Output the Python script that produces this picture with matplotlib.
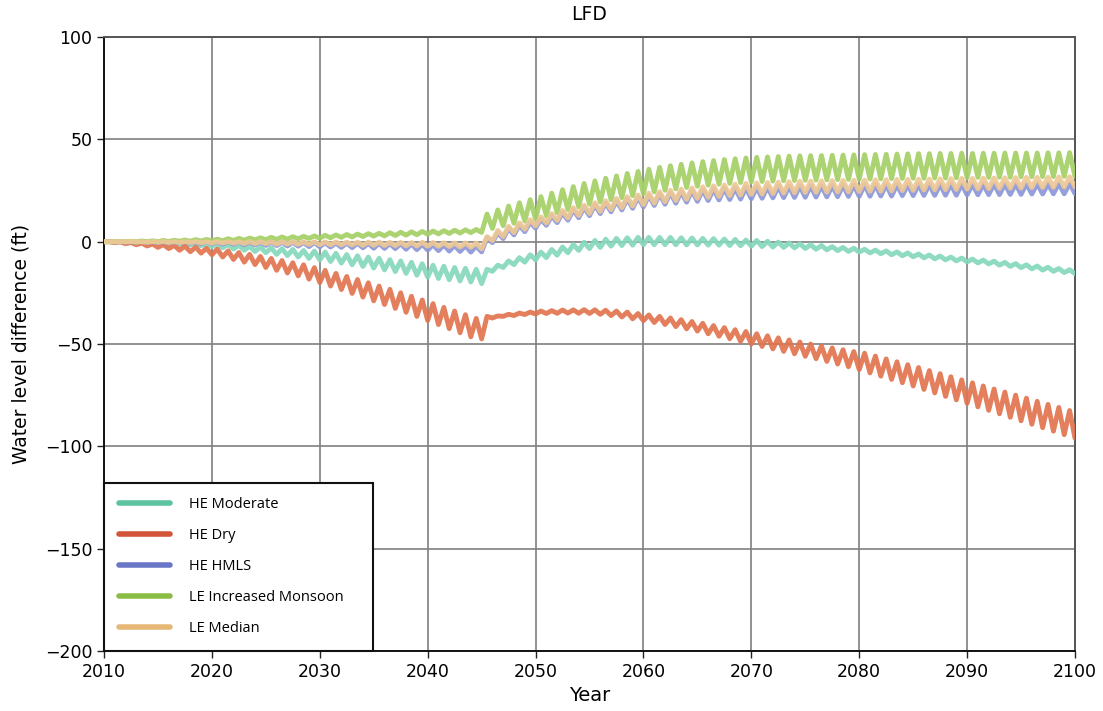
import numpy as np
import matplotlib
matplotlib.use("Agg")
import matplotlib.pyplot as plt
from matplotlib.lines import Line2D

years = list(range(2010, 2101))

labels = ["HE Moderate", "HE Dry", "HE HMLS", "LE Increased Monsoon", "LE Median"]
line_colors = ["#86d8bc", "#e2744f", "#8c97d8", "#a5d066", "#edc896"]
legend_colors = ["#5cc3a0", "#d2553a", "#6a77c6", "#8bbd45", "#e6b878"]

# yearly centre values (ft) and half seasonal swing
moderate_center = [
    0, -0.1, -0.2, -0.3, -0.4, -0.5, -0.7, -0.9, -1.1, -1.4,
    -1.7, -2.2, -2.7, -3.2, -3.7, -4.2, -4.8, -5.3, -5.9, -6.4,
    -7.0, -7.7, -8.4, -9.1, -9.8, -10.5, -11.3, -12.0, -12.8, -13.6,
    -14.4, -15.0, -15.6, -16.1, -16.6, -17.0, -13.0, -11.0, -9.5, -8.2,
    -7.0, -5.8, -4.6, -3.4, -2.3, -1.4, -0.8, -0.3, 0.0, 0.2,
    0.3, 0.3, 0.3, 0.2, 0.1, 0.0, -0.1, -0.2, -0.4, -0.6,
    -0.8, -1.1, -1.4, -1.7, -2.0, -2.4, -2.8, -3.2, -3.6, -4.0,
    -4.4, -4.8, -5.2, -5.7, -6.2, -6.7, -7.2, -7.7, -8.2, -8.7,
    -9.2, -9.7, -10.2, -10.8, -11.4, -12.0, -12.6, -13.2, -13.8, -14.4,
    -15.0]
moderate_swing = [
    0, 0.1, 0.1, 0.2, 0.2, 0.3, 0.4, 0.4, 0.5, 0.6,
    0.7, 0.8, 0.9, 1.0, 1.1, 1.2, 1.4, 1.5, 1.6, 1.8,
    1.9, 2.0, 2.1, 2.2, 2.3, 2.4, 2.5, 2.6, 2.7, 2.8,
    2.9, 3.0, 3.0, 3.1, 3.1, 3.5, 1.5, 1.6, 1.7, 1.8,
    1.9, 2.0, 2.0, 2.0, 2.0, 2.0, 2.0, 1.9, 1.9, 1.9,
    1.8, 1.8, 1.8, 1.7, 1.7, 1.6, 1.6, 1.5, 1.5, 1.4,
    1.4, 1.3, 1.2, 1.1, 1.0, 0.9, 0.9, 0.8, 0.8, 0.8,
    0.7, 0.7, 0.7, 0.7, 0.7, 0.7, 0.7, 0.7, 0.7, 0.7,
    0.7, 0.7, 0.7, 0.7, 0.7, 0.7, 0.7, 0.7, 0.7, 0.7,
    0.7]

dry_center = [
    0, -0.3, -0.7, -1.1, -1.6, -2.1, -2.6, -3.2, -3.8, -4.4,
    -5.0, -6.0, -7.0, -8.1, -9.2, -10.4, -11.6, -12.8, -14.0, -15.5,
    -17.0, -18.6, -20.2, -21.9, -23.6, -25.3, -27.0, -28.8, -30.6, -32.5,
    -34.4, -36.3, -38.2, -40.1, -42.0, -42.0, -36.8, -36.0, -35.5, -35.0,
    -34.6, -34.4, -34.2, -34.1, -34.1, -34.2, -34.5, -35.0, -35.6, -36.4,
    -37.2, -38.0, -38.9, -39.8, -40.8, -41.8, -43.0, -44.1, -45.2, -46.3,
    -47.5, -48.6, -49.7, -50.8, -51.9, -53.0, -54.1, -55.2, -56.3, -57.4,
    -58.5, -60.0, -61.5, -63.0, -64.5, -66.0, -67.6, -69.2, -70.8, -72.4,
    -74.0, -75.6, -77.2, -78.8, -80.4, -82.0, -83.6, -85.2, -86.8, -88.4,
    -90.0]
dry_swing = [
    0, 0.2, 0.3, 0.4, 0.5, 0.7, 0.8, 1.0, 1.1, 1.2,
    1.4, 1.5, 1.7, 1.9, 2.0, 2.2, 2.4, 2.5, 2.7, 2.8,
    3.0, 3.1, 3.2, 3.4, 3.5, 3.6, 3.7, 3.8, 3.9, 4.0,
    4.1, 4.2, 4.3, 4.4, 4.5, 5.5, 0.5, 0.5, 0.6, 0.6,
    0.7, 0.7, 0.8, 0.8, 0.9, 0.9, 1.0, 1.1, 1.2, 1.3,
    1.4, 1.5, 1.6, 1.7, 1.8, 1.9, 2.0, 2.1, 2.2, 2.4,
    2.5, 2.6, 2.7, 2.8, 2.9, 3.0, 3.1, 3.3, 3.5, 3.7,
    4.0, 4.1, 4.2, 4.3, 4.4, 4.5, 4.6, 4.7, 4.8, 4.9,
    5.0, 5.1, 5.2, 5.3, 5.4, 5.5, 5.6, 5.7, 5.8, 5.9,
    6.0]

hmls_center = [
    0, 0, -0.1, -0.1, -0.2, -0.2, -0.3, -0.3, -0.4, -0.5,
    -0.5, -0.6, -0.7, -0.8, -0.9, -1.0, -1.1, -1.2, -1.3, -1.4,
    -1.5, -1.6, -1.7, -1.8, -1.9, -2.0, -2.1, -2.2, -2.4, -2.6,
    -2.8, -3.0, -3.2, -3.4, -3.6, -1.5, 2.0, 4.0, 5.7, 7.2,
    8.8, 10.3, 11.7, 13.0, 14.2, 15.3, 16.3, 17.3, 18.2, 19.0,
    19.8, 20.5, 21.1, 21.6, 22.1, 22.5, 22.9, 23.2, 23.4, 23.6,
    23.8, 24.0, 24.2, 24.3, 24.4, 24.5, 24.6, 24.7, 24.8, 24.9,
    25.0, 25.0, 25.1, 25.1, 25.2, 25.2, 25.3, 25.3, 25.4, 25.4,
    25.5, 25.5, 25.6, 25.6, 25.7, 25.7, 25.8, 25.8, 25.9, 25.9,
    26.0]
hmls_swing = [
    0, 0.1, 0.1, 0.2, 0.2, 0.3, 0.3, 0.4, 0.4, 0.5,
    0.5, 0.6, 0.6, 0.7, 0.7, 0.8, 0.8, 0.9, 0.9, 1.0,
    1.0, 1.0, 1.1, 1.1, 1.1, 1.2, 1.2, 1.2, 1.3, 1.3,
    1.3, 1.4, 1.4, 1.4, 1.5, 3.5, 2.5, 2.5, 2.4, 2.3,
    2.2, 2.3, 2.4, 2.5, 2.5, 2.6, 2.6, 2.7, 2.7, 2.7,
    2.8, 2.8, 2.8, 2.8, 2.8, 2.8, 2.8, 2.8, 2.8, 2.8,
    2.8, 2.8, 2.8, 2.8, 2.8, 2.8, 2.8, 2.8, 2.8, 2.8,
    2.8, 2.8, 2.8, 2.8, 2.7, 2.7, 2.7, 2.7, 2.7, 2.7,
    2.6, 2.6, 2.6, 2.6, 2.6, 2.6, 2.5, 2.5, 2.5, 2.5,
    2.5]

monsoon_center = [
    0, 0.05, 0.1, 0.15, 0.2, 0.3, 0.4, 0.5, 0.6, 0.7,
    0.8, 0.95, 1.1, 1.25, 1.4, 1.55, 1.7, 1.85, 2.0, 2.2,
    2.4, 2.6, 2.8, 3.0, 3.2, 3.4, 3.6, 3.8, 4.0, 4.2,
    4.4, 4.6, 4.8, 5.0, 5.2, 9.0, 11.0, 12.6, 14.0, 15.3,
    16.5, 18.2, 19.8, 21.3, 22.7, 24.0, 25.2, 26.3, 27.4, 28.4,
    29.4, 30.3, 31.1, 31.8, 32.5, 33.1, 33.6, 34.1, 34.5, 34.9,
    35.2, 35.4, 35.6, 35.8, 35.9, 36.0, 36.1, 36.2, 36.3, 36.4,
    36.5, 36.6, 36.7, 36.8, 36.9, 37.0, 37.0, 37.1, 37.1, 37.2,
    37.2, 37.3, 37.3, 37.4, 37.4, 37.5, 37.5, 37.6, 37.6, 37.7,
    37.7]
monsoon_swing = [
    0, 0.1, 0.1, 0.2, 0.2, 0.3, 0.3, 0.3, 0.4, 0.4,
    0.4, 0.5, 0.5, 0.5, 0.5, 0.6, 0.6, 0.6, 0.6, 0.6,
    0.7, 0.7, 0.7, 0.7, 0.7, 0.7, 0.8, 0.8, 0.8, 0.8,
    0.8, 0.8, 0.8, 0.8, 0.8, 4.5, 4.5, 4.8, 5.0, 5.2,
    5.5, 5.5, 5.6, 5.6, 5.7, 5.7, 5.8, 5.8, 5.9, 5.9,
    6.0, 6.0, 6.0, 6.0, 6.0, 6.0, 6.0, 6.0, 6.0, 6.0,
    6.0, 6.0, 6.0, 6.0, 6.0, 6.0, 6.0, 6.0, 6.0, 6.0,
    6.0, 6.0, 6.0, 6.0, 6.0, 6.0, 6.0, 6.0, 6.0, 6.0,
    5.9, 5.9, 5.9, 5.9, 5.9, 5.8, 5.8, 5.8, 5.8, 5.8,
    5.8]

median_center = [
    0, 0, 0, -0.1, -0.1, -0.1, -0.2, -0.2, -0.2, -0.3,
    -0.3, -0.3, -0.4, -0.4, -0.5, -0.5, -0.6, -0.6, -0.7, -0.7,
    -0.8, -0.8, -0.9, -0.9, -1.0, -1.0, -1.1, -1.1, -1.2, -1.2,
    -1.3, -1.4, -1.5, -1.6, -1.7, -0.5, 3.0, 5.0, 6.8, 8.4,
    9.9, 11.4, 12.8, 14.1, 15.3, 16.4, 17.4, 18.4, 19.3, 20.1,
    20.9, 21.6, 22.3, 22.9, 23.5, 24.0, 24.5, 24.9, 25.3, 25.6,
    25.9, 26.1, 26.3, 26.5, 26.7, 26.8, 26.9, 27.0, 27.1, 27.2,
    27.3, 27.4, 27.5, 27.6, 27.7, 27.8, 27.9, 28.0, 28.1, 28.2,
    28.3, 28.4, 28.5, 28.6, 28.7, 28.8, 28.9, 29.0, 29.1, 29.2,
    29.3]
median_swing = [
    0, 0.1, 0.1, 0.1, 0.2, 0.2, 0.2, 0.3, 0.3, 0.3,
    0.4, 0.4, 0.4, 0.5, 0.5, 0.5, 0.6, 0.6, 0.6, 0.6,
    0.7, 0.7, 0.7, 0.7, 0.8, 0.8, 0.8, 0.8, 0.8, 0.9,
    0.9, 0.9, 0.9, 1.0, 1.0, 3.0, 2.5, 2.5, 2.4, 2.3,
    2.2, 2.3, 2.4, 2.5, 2.5, 2.6, 2.6, 2.7, 2.7, 2.7,
    2.8, 2.8, 2.8, 2.8, 2.8, 2.8, 2.8, 2.8, 2.8, 2.8,
    2.8, 2.8, 2.8, 2.8, 2.8, 2.8, 2.8, 2.8, 2.8, 2.8,
    2.8, 2.8, 2.8, 2.8, 2.7, 2.7, 2.7, 2.7, 2.7, 2.7,
    2.6, 2.6, 2.6, 2.6, 2.6, 2.6, 2.5, 2.5, 2.5, 2.5,
    2.5]

series = [
    (moderate_center, moderate_swing),
    (dry_center, dry_swing),
    (hmls_center, hmls_swing),
    (monsoon_center, monsoon_swing),
    (median_center, median_swing),
]

x_ticks = [2010, 2020, 2030, 2040, 2050, 2060, 2070, 2080, 2090, 2100]
y_ticks = [100, 50, 0, -50, -100, -150, -200]

fig = plt.figure(figsize=(11.03, 7.11), dpi=100)
ax = fig.add_axes([104 / 1103, 1 - 651 / 711, 971 / 1103, 614 / 711])

yr = np.array(years, dtype=float)
for (c, s), col in zip(series, line_colors):
    c = np.array(c)
    s = np.array(s)
    t = np.column_stack([yr, yr + 0.5]).ravel()
    v = np.column_stack([c - s, c + s]).ravel()
    ax.plot(t, v, color=col, lw=3.5, alpha=0.92, solid_joinstyle="round", zorder=3)

ax.set_xlim(2010, 2100)
ax.set_ylim(-200, 100)
ax.set_xticks(x_ticks)
ax.set_yticks(y_ticks)
ax.set_yticklabels([str(v).replace("-", "\u2212") for v in y_ticks])
ax.tick_params(labelsize=12.5, length=5, width=1.0, color="#222222")
ax.grid(True, color="#7f7f7f", lw=1.2, zorder=1)
ax.set_axisbelow(True)
for sp in ax.spines.values():
    sp.set_color("#555555")
    sp.set_linewidth(1.4)
ax.spines["left"].set_color("#111111")
ax.spines["bottom"].set_color("#111111")

ax.set_title("LFD", fontsize=13.5, pad=12)
ax.set_xlabel("Year", fontsize=14, labelpad=4)
ax.set_ylabel("Water level difference (ft)", fontsize=13.5, labelpad=10)

handles = [Line2D([0], [0], color=c, lw=4, solid_capstyle="round") for c in legend_colors]
leg = ax.legend(handles, labels, loc="lower left", bbox_to_anchor=(0, 0, 269 / 971, 1),
                mode="expand", borderaxespad=0, frameon=True, fancybox=False,
                edgecolor="#111111", framealpha=1, handlelength=3.5, handletextpad=1.3,
                labelspacing=1.1, borderpad=1.0,
                prop={"family": ["Open Sans", "DejaVu Sans"], "size": 10.5})
leg.get_frame().set_linewidth(1.5)

fig.savefig("out.png", dpi=100)
